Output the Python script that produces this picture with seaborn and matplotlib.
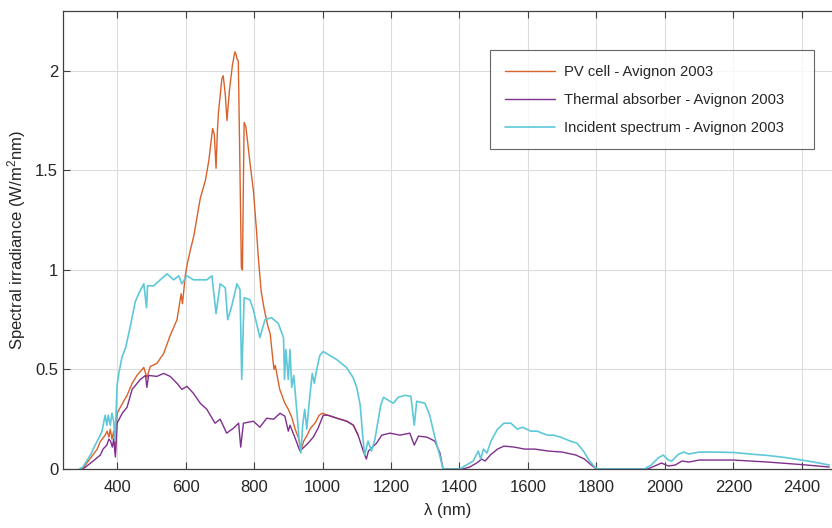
import numpy as np
import pandas as pd
import matplotlib
matplotlib.use("Agg")
import matplotlib.pyplot as plt
from matplotlib.ticker import FormatStrFormatter
import seaborn as sns

# ---------------- data ----------------
pv_wl = [295, 303, 342, 350, 365, 371, 376, 380, 385, 390, 395, 400, 419, 429, 444, 458,
         478, 487, 497, 516, 536, 555, 575, 587, 591, 599, 605, 614, 624, 643, 658, 668,
         679, 684, 689, 693, 696, 706, 710, 716, 721, 728, 737, 744, 748, 750, 754, 758,
         763, 766, 771, 776, 788, 798, 807, 813, 821, 830, 840, 847, 855, 858, 862, 875,
         890, 900, 910, 920, 930, 937, 945, 955, 965, 980, 990, 1000, 1016, 1042, 1071,
         1090, 1104]
pv_val = [0.0, 0.01, 0.10, 0.135, 0.17, 0.19, 0.16, 0.20, 0.15, 0.19, 0.08, 0.28, 0.34,
          0.37, 0.43, 0.47, 0.51, 0.46, 0.515, 0.53, 0.58, 0.67, 0.75, 0.88, 0.83, 0.97,
          1.03, 1.10, 1.17, 1.36, 1.45, 1.55, 1.71, 1.68, 1.51, 1.70, 1.79, 1.96, 1.975,
          1.88, 1.75, 1.90, 2.03, 2.095, 2.08, 2.06, 2.05, 1.60, 1.01, 1.00, 1.74, 1.72,
          1.54, 1.40, 1.20, 1.05, 0.89, 0.80, 0.72, 0.68, 0.55, 0.50, 0.52, 0.40, 0.33,
          0.30, 0.26, 0.20, 0.155, 0.09, 0.14, 0.17, 0.205, 0.235, 0.27, 0.28, 0.27,
          0.255, 0.24, 0.22, 0.17]

th_wl = [300, 308, 330, 351, 359, 370, 376, 381, 386, 390, 395, 400, 415, 429, 444, 468,
         483, 487, 492, 516, 536, 555, 575, 589, 604, 623, 643, 662, 686, 701, 720, 740,
         755, 761, 769, 798, 817, 837, 857, 876, 890, 900, 905, 920, 934, 940, 958, 973,
         987, 1002, 1016, 1042, 1071, 1090, 1104, 1119, 1128, 1134, 1158, 1173, 1197,
         1226, 1255, 1268, 1280, 1305, 1328, 1343, 1352, 1410, 1430, 1450, 1465, 1475,
         1490, 1511, 1530, 1560, 1590, 1620, 1660, 1700, 1740, 1765, 1785, 1800, 1950,
         1970, 1990, 2010, 2030, 2050, 2070, 2100, 2200, 2300, 2400, 2480]
th_val = [0.0, 0.01, 0.04, 0.07, 0.10, 0.12, 0.15, 0.14, 0.11, 0.15, 0.06, 0.23, 0.28,
          0.31, 0.40, 0.45, 0.47, 0.41, 0.47, 0.465, 0.48, 0.465, 0.43, 0.40, 0.415, 0.38,
          0.33, 0.30, 0.23, 0.25, 0.18, 0.205, 0.23, 0.11, 0.23, 0.24, 0.21, 0.255, 0.25,
          0.28, 0.265, 0.19, 0.22, 0.155, 0.09, 0.10, 0.13, 0.16, 0.205, 0.27, 0.27, 0.255,
          0.24, 0.22, 0.17, 0.09, 0.05, 0.09, 0.13, 0.17, 0.18, 0.17, 0.18, 0.12, 0.165,
          0.16, 0.14, 0.08, 0.0, 0.0, 0.01, 0.03, 0.05, 0.04, 0.07, 0.10, 0.115, 0.11, 0.10,
          0.10, 0.09, 0.085, 0.07, 0.05, 0.02, 0.0, 0.0, 0.015, 0.03, 0.015, 0.02, 0.04,
          0.035, 0.045, 0.045, 0.035, 0.022, 0.01]

inc_wl = [290, 300, 322, 336, 351, 356, 365, 370, 374, 380, 385, 390, 394, 400, 405, 414,
          425, 439, 453, 463, 478, 486, 489, 507, 526, 546, 565, 580, 589, 604, 623, 643,
          662, 677, 689, 701, 716, 723, 735, 750, 759, 764, 771, 788, 798, 817, 832, 851,
          871, 886, 889, 893, 900, 905, 910, 916, 925, 931, 937, 942, 948, 954, 962, 970,
          976, 983, 992, 1002, 1012, 1041, 1070, 1089, 1100, 1110, 1118, 1123, 1133, 1143,
          1153, 1163, 1170, 1178, 1197, 1207, 1221, 1241, 1258, 1268, 1275, 1299, 1313,
          1328, 1342, 1352, 1400, 1420, 1440, 1455, 1462, 1470, 1480, 1492, 1511, 1530,
          1550, 1569, 1584, 1608, 1627, 1656, 1675, 1695, 1724, 1743, 1762, 1780, 1795,
          1805, 1940, 1960, 1980, 1995, 2010, 2020, 2040, 2055, 2070, 2100, 2150, 2200,
          2250, 2300, 2350, 2400, 2450, 2480]
inc_val = [0.0, 0.01, 0.07, 0.12, 0.17, 0.19, 0.27, 0.22, 0.27, 0.22, 0.28, 0.24, 0.14,
           0.42, 0.48, 0.56, 0.61, 0.72, 0.84, 0.88, 0.93, 0.81, 0.92, 0.92, 0.95, 0.98,
           0.95, 0.97, 0.93, 0.97, 0.95, 0.95, 0.95, 0.97, 0.78, 0.93, 0.91, 0.75, 0.82,
           0.93, 0.90, 0.45, 0.86, 0.85, 0.80, 0.66, 0.75, 0.76, 0.73, 0.66, 0.45, 0.60,
           0.45, 0.60, 0.41, 0.47, 0.29, 0.16, 0.08, 0.22, 0.30, 0.20, 0.35, 0.48, 0.43,
           0.50, 0.57, 0.59, 0.58, 0.55, 0.51, 0.46, 0.41, 0.32, 0.155, 0.07, 0.14, 0.09,
           0.15, 0.25, 0.32, 0.36, 0.34, 0.33, 0.36, 0.37, 0.365, 0.22, 0.34, 0.33, 0.27,
           0.16, 0.07, 0.0, 0.0, 0.02, 0.04, 0.09, 0.05, 0.10, 0.08, 0.14, 0.20, 0.23, 0.23,
           0.20, 0.21, 0.19, 0.19, 0.17, 0.17, 0.16, 0.14, 0.13, 0.09, 0.04, 0.01, 0.0, 0.0,
           0.02, 0.055, 0.07, 0.045, 0.04, 0.075, 0.085, 0.075, 0.085, 0.085, 0.083, 0.075,
           0.068, 0.058, 0.045, 0.03, 0.02]

labels = ["PV cell - Avignon 2003", "Thermal absorber - Avignon 2003",
          "Incident spectrum - Avignon 2003"]
colors = ["#D9622B", "#7E2F8E", "#5EC8D8"]
xticks = [400, 600, 800, 1000, 1200, 1400, 1600, 1800, 2000, 2200, 2400]
yticks = [0, 0.5, 1, 1.5, 2]

# ---------------- style ----------------
sns.set_theme(style="whitegrid")
plt.rcParams["font.family"] = ["Liberation Sans", "DejaVu Sans"]
plt.rcParams["mathtext.fontset"] = "custom"
plt.rcParams["mathtext.rm"] = "Liberation Sans"
plt.rcParams["mathtext.it"] = "Liberation Sans:italic"
txt = "#262626"

fig = plt.figure(figsize=(8.32, 5.28), dpi=100)
fig.patch.set_facecolor("white")
ax = fig.add_axes([63 / 832, 59 / 528, 769 / 832, 458 / 528])
ax.set_facecolor("white")

series = [(pv_wl, pv_val), (th_wl, th_val), (inc_wl, inc_val)]
widths = [1.0, 1.0, 1.2]
for (wl, val), lab, col, lw in zip(series, labels, colors, widths):
    df = pd.DataFrame({"wl": wl, "val": val})
    sns.lineplot(data=df, x="wl", y="val", ax=ax, color=col, lw=lw,
                 label=lab, estimator=None, sort=False)

ax.set_xlim(242, 2488)
ax.set_ylim(0, 2.30)
ax.set_xticks(xticks)
ax.set_yticks(yticks)
ax.yaxis.set_major_formatter(FormatStrFormatter("%g"))

ax.grid(True, color="#dcdcdc", lw=0.8)
for side in ["left", "bottom", "top"]:
    ax.spines[side].set_visible(True)
    ax.spines[side].set_color("#404040")
    ax.spines[side].set_linewidth(0.9)
ax.spines["right"].set_visible(False)
ax.tick_params(axis="both", which="major", direction="in", length=5, width=0.8,
               colors="#404040", labelcolor=txt, labelsize=12,
               top=True, bottom=True, left=True, right=False)
ax.tick_params(axis="x", pad=8)
ax.tick_params(axis="y", pad=3.5)

ax.set_xlabel("λ (nm)", fontsize=12, color=txt, labelpad=6)
ax.set_ylabel(r"Spectral irradiance (W/m$^{2}$nm)", fontsize=12, color=txt, labelpad=5)

leg = ax.legend(loc="upper left", bbox_to_anchor=(0.5553, 0.9048, 0.4213, 0.01),
                mode="expand", borderaxespad=0,
                fontsize=10.6, frameon=True, fancybox=False, handlelength=3.4,
                labelspacing=0.95, borderpad=1.0, handletextpad=0.6)
leg.get_frame().set_edgecolor("#404040")
leg.get_frame().set_linewidth(0.8)
for t in leg.get_texts():
    t.set_color(txt)

fig.savefig("out.png", dpi=100, facecolor="white")
